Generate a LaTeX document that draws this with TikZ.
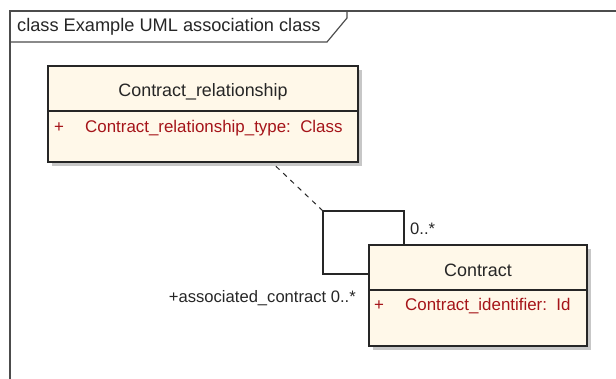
\documentclass[tikz,border=0pt]{standalone}
\usepackage{fontspec}
\setmainfont{Liberation Sans}
\begin{document}
\begin{tikzpicture}[x=1pt,y=-1pt,
  classbox/.style={draw=black!85, line width=1.1pt, fill=cream, inner sep=0pt},
  nametext/.style={font=\fontsize{17.9}{20}\selectfont, text=black!85, inner sep=0pt},
  titletext/.style={font=\fontsize{18.2}{20}\selectfont, text=black!85, inner sep=0pt},
  attrtext/.style={font=\fontsize{16.9}{20}\selectfont, text=attrred, inner sep=0pt},
  lbltext/.style={font=\fontsize{16.6}{20}\selectfont, text=black!85, inner sep=0pt},
  conn/.style={draw=black!85, line width=1.1pt}
]
\definecolor{cream}{RGB}{255,248,233}
\definecolor{attrred}{RGB}{165,20,25}
\useasboundingbox (0,0) rectangle (616,378);
% frame
\draw[draw=black!70, line width=1.4pt] (10,400) -- (10,11) -- (630,11);
\draw[draw=black!70, line width=1.2pt] (10,42) -- (327,42) -- (347,18) -- (347,11);
\node[titletext, anchor=west] (title) at (17,27) {class Example UML association class};
% Contract_relationship
\fill[black!22] (52,70) rectangle (362,166);
\node[classbox, minimum width=310pt, minimum height=96pt] (cr) at (203,114) {};
\draw[conn] (48,111) -- (358,111);
\node[nametext] (crname) at (203,92) {Contract\_relationship};
\node[attrtext, anchor=west] (crplus) at (54,128) {+};
\node[attrtext, anchor=west] (crattr) at (85,128) {Contract\_relationship\_type:\ \ Class};
% Contract
\fill[black!22] (373,249) rectangle (591,350);
\node[classbox, minimum width=218pt, minimum height=101pt] (ct) at (478,295.5) {};
\draw[conn] (369,290) -- (587,290);
\node[nametext] (ctname) at (478,270) {Contract};
\node[attrtext, anchor=west] (ctplus) at (374,306) {+};
\node[attrtext, anchor=west] (ctattr) at (405,306) {Contract\_identifier:\ \ Id};
% self association
\coordinate (tl) at (323,211);
\coordinate (tr) at (404,211);
\coordinate (bl) at (323,274);
\draw[conn] (ct.north -| tr) -- (tr) -- (tl) -- (bl) -- (bl -| ct.west);
\draw[conn, dashed, dash pattern=on 5pt off 5pt, line width=1pt] (tl) -- (cr.south -| 272,0);
\node[lbltext, anchor=west] (m1) at (410,229) {0..*};
\node[lbltext, anchor=east] (m2) at (356,298) {+associated\_contract 0..*};
\end{tikzpicture}
\end{document}
